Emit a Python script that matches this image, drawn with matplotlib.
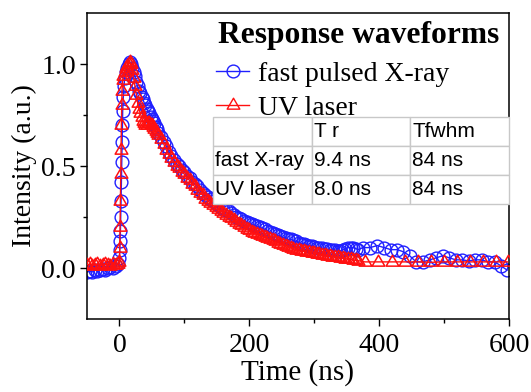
import numpy as np
import matplotlib
matplotlib.use("Agg")
import matplotlib.pyplot as plt
from matplotlib.lines import Line2D
from matplotlib.path import Path

# ---- measured waveforms -------------------------------------------------
# fast pulsed X-ray response
t_xray = [-50, -46, -42, -38, -34, -30, -26, -22, -18, -14, -10, -6, -2,
          0, 0.5, 1, 1.5, 2, 2.5, 3, 3.5, 4, 4.5, 5, 6, 7, 8, 10, 12, 14, 16,
          18, 20, 22, 24, 26, 28, 30, 32, 34, 36, 38, 40, 42, 44, 46, 48, 50,
          52, 54, 56, 58, 60, 64, 68, 72, 76, 80, 84, 88, 92, 96, 100, 104,
          108, 112, 116, 120, 124, 128, 132, 136, 140, 144, 148, 152, 156, 160,
          164, 168, 172, 176, 180, 184, 188, 192, 196, 200, 204, 208, 212, 216,
          220, 224, 228, 232, 236, 240, 244, 248, 252, 256, 260, 264, 268, 272,
          276, 280, 284, 288, 292, 296, 300, 304, 308, 312, 316, 320, 324, 328,
          332, 336, 340, 344, 348, 352, 356, 360, 364, 368,
          375, 386, 397, 408, 418, 428, 437, 447, 457, 467, 478, 488, 498, 508,
          518, 528, 538, 548, 558, 568, 578, 588, 597]
i_xray = [-0.02, -0.015, -0.02, -0.01, -0.015, -0.01, -0.005, -0.01, 0.0, 0.005,
          0.0, 0.01, 0.02,
          0.05, 0.09, 0.13, 0.18, 0.25, 0.33, 0.42, 0.52, 0.62, 0.70, 0.77, 0.84,
          0.89, 0.93, 0.96, 0.98, 1.0, 1.01, 1.0, 0.98, 0.96, 0.94, 0.91, 0.89,
          0.87, 0.86, 0.84, 0.83, 0.81, 0.80, 0.78, 0.77, 0.76, 0.74, 0.73, 0.72,
          0.71, 0.69, 0.68, 0.66, 0.64, 0.62, 0.60, 0.57, 0.55, 0.53, 0.51, 0.50,
          0.48, 0.47, 0.45, 0.44, 0.42, 0.41, 0.40, 0.38, 0.37, 0.36, 0.35, 0.34,
          0.33, 0.32, 0.31, 0.30, 0.29, 0.285, 0.28, 0.27, 0.26, 0.25, 0.245,
          0.24, 0.23, 0.225, 0.22, 0.215, 0.21, 0.205, 0.20, 0.195, 0.19, 0.18,
          0.175, 0.17, 0.165, 0.16, 0.155, 0.15, 0.145, 0.14, 0.14, 0.135, 0.13,
          0.125, 0.12, 0.12, 0.115, 0.11, 0.11, 0.105, 0.10, 0.10, 0.098, 0.095,
          0.092, 0.09, 0.09, 0.088, 0.085, 0.085, 0.09, 0.095, 0.10, 0.10, 0.10,
          0.095, 0.09,
          0.10, 0.10, 0.11, 0.10, 0.09, 0.09, 0.08, 0.06, 0.03, 0.03, 0.04, 0.05,
          0.06, 0.05, 0.04, 0.04, 0.035, 0.04, 0.04, 0.03, 0.03, 0.01, -0.01]

# UV laser response
t_uv = [-50, -46, -42, -38, -34, -30, -26, -22, -18, -14, -10, -6, -2,
        0, 0.5, 1, 1.5, 2, 2.5, 3, 3.5, 4, 5, 6, 8, 10, 12, 14, 16, 18, 20, 22,
        24, 26, 28, 30, 32, 34, 36, 38, 40, 42, 44, 46, 48, 50, 52, 54, 56, 58,
        60, 64, 68, 72, 76, 80, 84, 88, 92, 96, 100, 104, 108, 112, 116, 120,
        124, 128, 132, 136, 140, 144, 148, 152, 156, 160, 164, 168, 172, 176,
        180, 184, 188, 192, 196, 200, 204, 208, 212, 216, 220, 224, 228, 232,
        236, 240, 244, 248, 252, 256, 260, 264, 268, 272, 276, 280, 284, 288,
        292, 296, 300, 304, 308, 312, 316, 320, 324, 328, 332, 336, 340, 344,
        348, 352, 356, 360, 364, 368,
        378, 399, 420, 440, 460, 480, 500, 520, 540, 560, 580, 598]
i_uv = [0.015, 0.02, 0.01, 0.015, 0.02, 0.01, 0.015, 0.02, 0.015, 0.01, 0.02,
        0.015, 0.02,
        0.03, 0.10, 0.20, 0.33, 0.46, 0.58, 0.70, 0.80, 0.87, 0.92, 0.94, 0.96,
        0.98, 0.99, 1.0, 1.01, 1.0, 0.97, 0.93, 0.89, 0.85, 0.81, 0.78, 0.76,
        0.74, 0.72, 0.71, 0.70, 0.70, 0.71, 0.71, 0.70, 0.70, 0.69, 0.68, 0.67,
        0.66, 0.65, 0.63, 0.61, 0.58, 0.56, 0.54, 0.52, 0.50, 0.49, 0.47, 0.46,
        0.44, 0.43, 0.41, 0.40, 0.38, 0.37, 0.36, 0.34, 0.33, 0.32, 0.31, 0.30,
        0.29, 0.28, 0.27, 0.26, 0.25, 0.245, 0.235, 0.225, 0.215, 0.21, 0.20,
        0.19, 0.185, 0.175, 0.17, 0.165, 0.16, 0.155, 0.15, 0.145, 0.14, 0.135,
        0.13, 0.125, 0.12, 0.115, 0.11, 0.105, 0.10, 0.095, 0.09, 0.088, 0.085,
        0.082, 0.08, 0.077, 0.075, 0.072, 0.07, 0.067, 0.065, 0.062, 0.06,
        0.058, 0.056, 0.054, 0.052, 0.05, 0.048, 0.046, 0.044, 0.042, 0.04,
        0.038, 0.036,
        0.03, 0.03, 0.03, 0.03, 0.03, 0.028, 0.03, 0.03, 0.03, 0.03, 0.03, 0.03]

series_labels = ["fast pulsed X-ray", "UV laser"]
legend_title = "Response waveforms"

table_header = ["", "T r", "Tfwhm"]
table_rows = [["fast X-ray", "9.4 ns", "84 ns"],
              ["UV laser", "8.0 ns", "84 ns"]]

x_ticks = [0, 200, 400, 600]
y_ticks = [0.0, 0.5, 1.0]

# ---- styling -------------------------------------------------------------
serif = ["Liberation Serif", "DejaVu Serif"]
sans = ["Liberation Sans", "DejaVu Sans"]
plt.rcParams["font.family"] = serif

blue = "#1f1fff"
red = "#ff1010"

# open triangle centred on its centroid
tri = Path([(0, 1.0), (-0.87, -0.5), (0.87, -0.5), (0, 1.0)],
           [Path.MOVETO, Path.LINETO, Path.LINETO, Path.CLOSEPOLY])

fig = plt.figure(figsize=(5.31, 3.92), dpi=100)
ax = fig.add_axes([0.1638, 0.1862, 0.7947, 0.7806])

ax.plot(t_xray, i_xray, color=blue, lw=1.0, marker="o", ms=9.2,
        mfc="none", mec=blue, mew=1.0, zorder=2)
ax.plot(t_uv, i_uv, color=red, lw=1.0, marker=tri, ms=10.5,
        mfc="none", mec=red, mew=1.1, zorder=3)

ax.set_xlim(-50, 600)
ax.set_ylim(-0.25, 1.25)
ax.set_xticks(x_ticks)
ax.set_xticks([100, 300, 500], minor=True)
ax.set_yticks(y_ticks)
ax.set_yticks([0.25, 0.75], minor=True)
ax.set_yticklabels([f"{v:.1f}" for v in y_ticks])
ax.tick_params(which="major", direction="out", length=5, width=1.0,
               labelsize=20, pad=3)
ax.tick_params(axis="x", which="major", pad=5)
ax.tick_params(which="minor", direction="out", length=3, width=1.0)
for s in ax.spines.values():
    s.set_linewidth(1.1)

ax.set_xlabel("Time (ns)", fontsize=21, labelpad=1)
ax.set_ylabel("Intensity (a.u.)", fontsize=20, labelpad=3)

# legend: bold heading, then the two series entries
ax.text(0.310, 0.925, legend_title, transform=ax.transAxes,
        fontsize=22.7, fontweight="bold", ha="left", va="center", zorder=5)
handles = [
    Line2D([], [], color=blue, lw=1.0, marker="o", ms=9.2, mfc="none",
           mec=blue),
    Line2D([], [], color=red, lw=1.0, marker=tri, ms=10.5, mfc="none",
           mec=red),
]
leg = ax.legend(handles, series_labels, loc="upper left",
                bbox_to_anchor=(0.306, 0.842), frameon=False,
                fontsize=20, handlelength=1.2, handletextpad=0.3,
                borderpad=0.0, borderaxespad=0.0, labelspacing=0.3)
leg.set_zorder(5)

# timing table
cells = [table_header] + table_rows
tab = ax.table(cellText=cells, cellLoc="left",
               bbox=[0.2986, 0.376, 0.7014, 0.284], zorder=6)
tab.auto_set_font_size(False)
for (r, c), cell in tab.get_celld().items():
    cell.set_edgecolor("#c8c8c8")
    cell.set_linewidth(1.0)
    cell.set_facecolor("white")
    cell.PAD = 0.02
    cell.get_text().set_fontsize(15)
    cell.get_text().set_fontfamily(sans)

fig.savefig("out.png", dpi=100)
